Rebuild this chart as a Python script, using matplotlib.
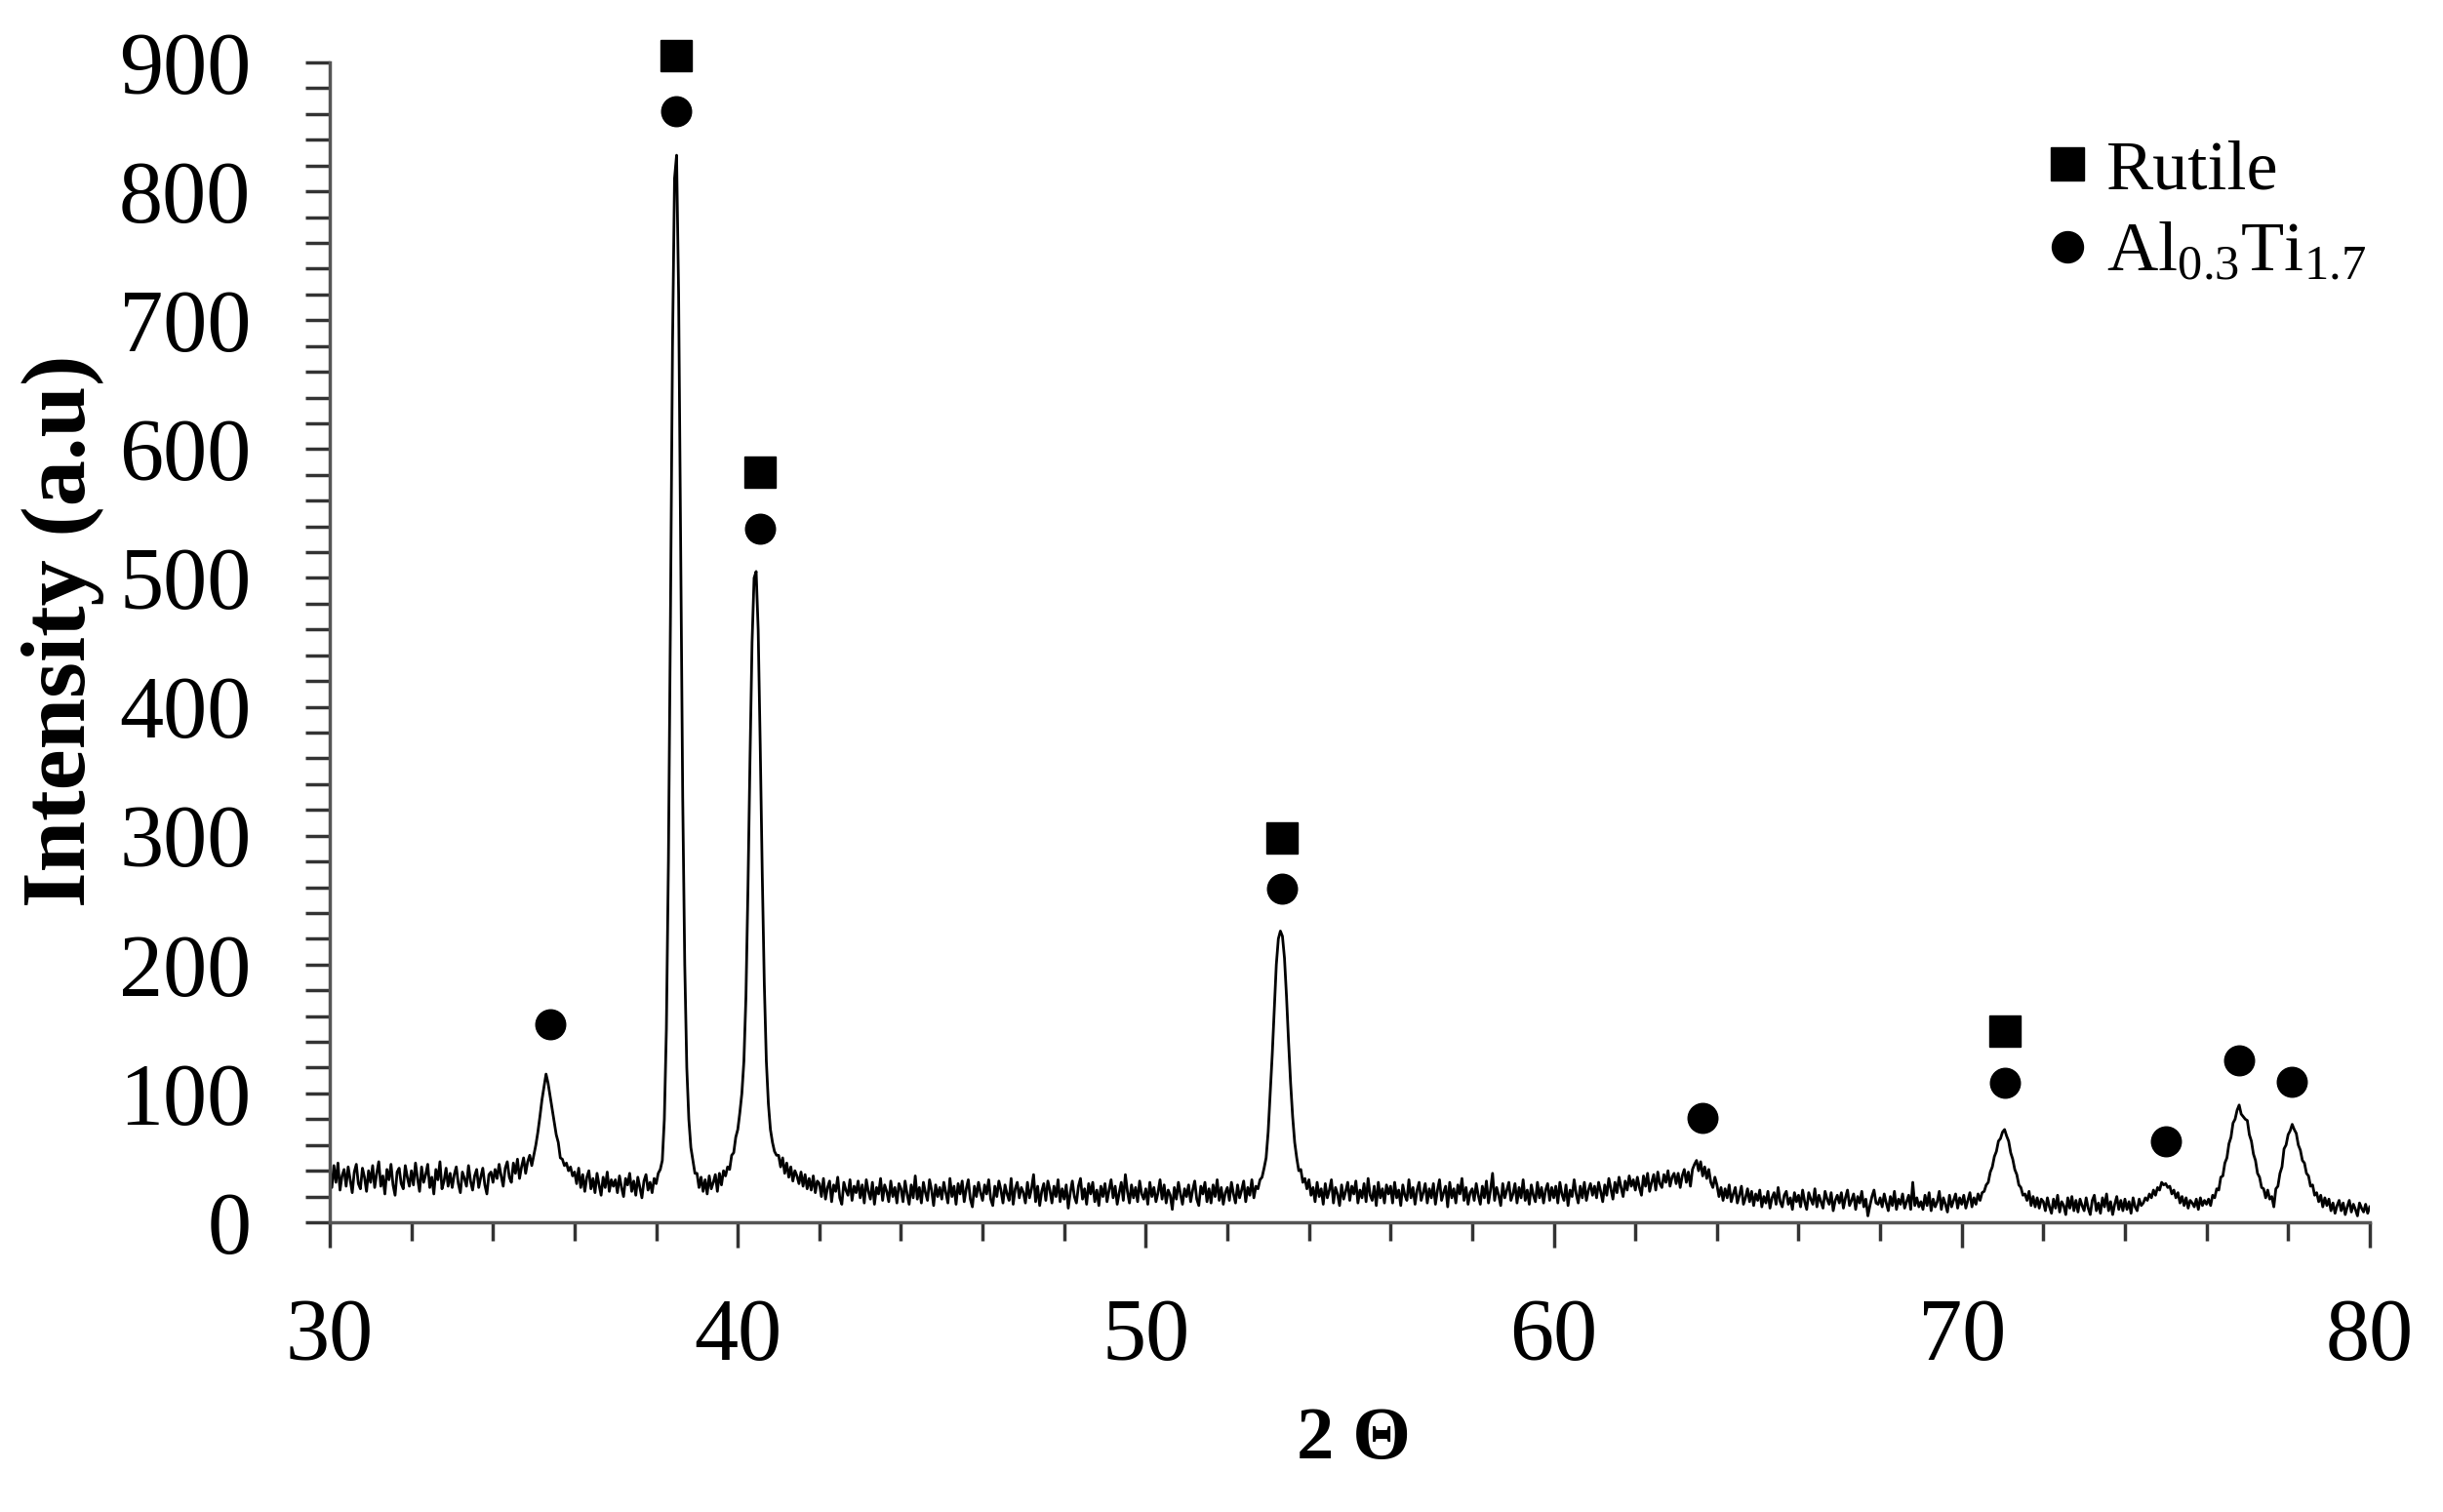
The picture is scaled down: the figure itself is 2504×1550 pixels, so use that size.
import numpy as np
import matplotlib
matplotlib.use("Agg")
import matplotlib.pyplot as plt
from matplotlib.ticker import MultipleLocator
from matplotlib.lines import Line2D

plt.rcParams['font.family'] = ['Liberation Serif', 'DejaVu Serif']
plt.rcParams['mathtext.fontset'] = 'custom'
plt.rcParams['mathtext.rm'] = 'Liberation Serif'
plt.rcParams['mathtext.it'] = 'Liberation Serif:italic'
plt.rcParams['mathtext.bf'] = 'Liberation Serif:bold'

# 2-theta grid, one reading every 0.05 degree
two_theta = np.round(np.arange(30, 80.001, 0.05), 2)

# intensity, one row per degree (x.00 ... x.95)
intensity_rows = [
    [38, 27, 44, 31, 46, 25, 36, 41, 28, 43, 33, 23, 39, 45, 30, 26, 42, 35, 24, 40],  # 30
    [31, 44, 27, 38, 47, 28, 36, 22, 41, 33, 45, 29, 21, 39, 42, 30, 26, 44, 35, 28],  # 31
    [40, 29, 46, 34, 24, 43, 31, 37, 45, 27, 35, 22, 41, 33, 47, 26, 32, 42, 28, 38],  # 32
    [27, 37, 43, 30, 23, 39, 34, 28, 44, 32, 25, 36, 41, 27, 35, 42, 29, 22, 37, 39],  # 33
    [31, 41, 34, 45, 36, 28, 42, 47, 35, 31, 46, 38, 49, 34, 43, 50, 38, 47, 52, 44],  # 34
    [52, 60, 70, 82, 95, 105, 115, 108, 98, 88, 78, 68, 62, 50, 49, 44, 46, 40, 43, 36],  # 35
    [39, 30, 42, 27, 37, 24, 35, 40, 26, 34, 23, 38, 29, 21, 35, 27, 39, 24, 33, 28],  # 36
    [33, 23, 36, 27, 20, 34, 29, 38, 24, 32, 21, 35, 27, 19, 32, 37, 25, 31, 23, 34],  # 37
    [30, 38, 41, 48, 80, 150, 280, 470, 680, 810, 828, 720, 520, 330, 200, 120, 80, 58, 48, 38],  # 38
    [38, 27, 35, 24, 33, 22, 36, 26, 31, 37, 24, 38, 29, 40, 36, 43, 41, 52, 54, 66],  # 39
    [72, 85, 100, 125, 175, 260, 360, 450, 500, 505, 460, 370, 270, 185, 125, 92, 72, 62, 55, 52],  # 40
    [52, 43, 50, 38, 46, 35, 43, 32, 40, 36, 30, 39, 28, 37, 26, 34, 25, 36, 23, 32],  # 41
    [30, 20, 34, 18, 27, 32, 16, 29, 24, 35, 19, 14, 31, 25, 21, 33, 17, 28, 23, 32],  # 42
    [19, 29, 15, 33, 24, 18, 31, 14, 27, 22, 34, 17, 29, 24, 16, 32, 20, 27, 15, 30],  # 43
    [26, 16, 32, 22, 14, 29, 19, 36, 18, 27, 15, 31, 23, 17, 33, 25, 13, 29, 20, 27],  # 44
    [18, 31, 23, 15, 34, 20, 28, 14, 30, 22, 32, 16, 26, 33, 18, 12, 28, 20, 31, 23],  # 45
    [17, 29, 22, 33, 18, 13, 28, 20, 32, 25, 15, 29, 22, 17, 34, 14, 26, 31, 19, 27],  # 46
    [23, 15, 31, 19, 26, 37, 16, 28, 13, 24, 30, 17, 32, 25, 15, 28, 20, 33, 16, 26],  # 47
    [18, 29, 11, 23, 32, 20, 15, 28, 34, 18, 26, 14, 30, 22, 31, 16, 25, 13, 28, 20],  # 48
    [30, 16, 25, 33, 19, 28, 14, 23, 31, 17, 37, 24, 15, 29, 19, 27, 16, 32, 22, 18],  # 49
    [26, 14, 31, 20, 27, 16, 23, 33, 18, 29, 15, 25, 21, 10, 27, 18, 31, 22, 14, 26],  # 50
    [20, 29, 16, 25, 32, 18, 13, 28, 22, 31, 16, 26, 15, 29, 20, 33, 17, 27, 14, 23],  # 51
    [27, 17, 31, 22, 15, 29, 19, 25, 32, 16, 27, 21, 33, 19, 28, 26, 33, 35, 42, 50],  # 52
    [70, 100, 130, 165, 200, 220, 226, 222, 205, 175, 140, 108, 82, 62, 50, 40, 41, 31, 34, 26],  # 53
    [33, 21, 27, 16, 31, 20, 26, 14, 30, 19, 25, 33, 15, 27, 22, 13, 29, 18, 24, 31],  # 54
    [17, 28, 22, 32, 15, 25, 19, 30, 16, 34, 21, 17, 28, 13, 31, 19, 26, 15, 29, 22],  # 55
    [28, 15, 31, 19, 25, 13, 29, 21, 17, 33, 19, 27, 14, 25, 31, 17, 23, 30, 15, 26],  # 56
    [19, 30, 14, 25, 33, 17, 23, 28, 12, 31, 19, 26, 15, 29, 22, 34, 17, 27, 14, 23],  # 57
    [26, 17, 30, 21, 14, 28, 19, 32, 15, 25, 38, 17, 27, 21, 13, 30, 19, 25, 31, 17],  # 58
    [22, 30, 15, 27, 19, 33, 17, 25, 14, 29, 21, 16, 31, 19, 27, 15, 25, 30, 17, 27],  # 59
    [19, 28, 15, 31, 22, 17, 29, 13, 25, 20, 33, 22, 15, 28, 19, 31, 17, 25, 30, 21],  # 60
    [28, 19, 31, 24, 16, 29, 21, 34, 26, 18, 31, 23, 35, 27, 20, 32, 25, 36, 28, 33],  # 61
    [25, 35, 27, 21, 36, 28, 38, 24, 31, 37, 25, 39, 30, 27, 37, 31, 40, 28, 35, 38],  # 62
    [30, 38, 27, 36, 41, 31, 39, 28, 41, 45, 48, 40, 47, 36, 43, 34, 41, 31, 27, 35],  # 63
    [29, 20, 27, 17, 26, 19, 29, 16, 22, 27, 15, 21, 28, 14, 19, 26, 16, 24, 13, 22],  # 64
    [17, 25, 12, 20, 15, 24, 11, 19, 23, 14, 27, 16, 12, 21, 24, 14, 19, 10, 23, 16],  # 65
    [21, 12, 25, 16, 10, 23, 18, 14, 26, 12, 21, 16, 11, 24, 18, 14, 23, 9, 17, 21],  # 66
    [15, 23, 11, 19, 25, 13, 17, 22, 10, 20, 15, 24, 12, 18, 5, 13, 20, 25, 15, 14],  # 67
    [19, 12, 22, 15, 9, 20, 13, 24, 10, 18, 14, 22, 11, 16, 21, 10, 31, 13, 19, 12],  # 68
    [16, 10, 21, 13, 23, 9, 18, 12, 16, 24, 10, 19, 14, 8, 21, 12, 17, 22, 11, 19],  # 69
    [14, 21, 11, 17, 23, 12, 19, 14, 22, 17, 23, 24, 29, 31, 39, 43, 51, 55, 63, 65],  # 70
    [70, 72, 67, 63, 54, 49, 41, 37, 29, 27, 21, 22, 17, 24, 13, 20, 12, 19, 11, 18],  # 71
    [16, 9, 19, 12, 7, 18, 11, 21, 8, 16, 13, 6, 19, 11, 20, 9, 17, 8, 18, 13],  # 72
    [9, 19, 11, 6, 17, 21, 9, 15, 7, 19, 12, 22, 9, 16, 6, 14, 20, 10, 17, 9],  # 73
    [18, 10, 16, 7, 19, 12, 9, 18, 13, 15, 19, 17, 22, 19, 25, 21, 27, 25, 31, 29],  # 74
    [30, 27, 28, 22, 25, 19, 23, 15, 20, 13, 19, 11, 17, 15, 12, 18, 10, 19, 13, 17],  # 75
    [14, 18, 13, 21, 19, 26, 25, 35, 36, 46, 50, 61, 66, 77, 80, 87, 91, 84, 82, 80],  # 76
    [79, 68, 63, 53, 48, 38, 35, 27, 26, 19, 25, 18, 20, 12, 26, 28, 38, 43, 57, 60],  # 77
    [68, 71, 76, 72, 69, 60, 56, 48, 46, 38, 36, 28, 29, 21, 23, 16, 21, 12, 19, 13],  # 78
    [18, 9, 15, 7, 13, 17, 9, 15, 6, 12, 17, 8, 14, 10, 5, 15, 11, 8, 14, 7],  # 79
]
intensity_end = [12]  # 80.00
intensity = [v for row in intensity_rows for v in row] + intensity_end

# phase markers above the peaks
rutile_x = [38.5, 40.55, 53.35, 71.05]
rutile_y = [905, 582, 298, 148]
alti_x = [35.4, 38.5, 40.55, 53.35, 63.65, 71.05, 75.0, 76.8, 78.1]
alti_y = [154, 862, 538, 259, 81, 108, 63, 126, 109]

legend_labels = ['Rutile', r'Al$_{0.3}$Ti$_{1.7}$']

fig = plt.figure(figsize=(25.04, 15.5), dpi=100)
ax = fig.add_axes([0.135, 0.1916, 0.835, 0.7671])

ax.plot(two_theta, intensity, color='black', lw=2.0)
ax.plot(rutile_x, rutile_y, 's', ms=23, color='black', ls='none', clip_on=False)
ax.plot(alti_x, alti_y, 'o', ms=22, color='black', ls='none', clip_on=False)

ax.set_xlim(30, 80)
ax.set_ylim(0, 900)
for side in ['top', 'right']:
    ax.spines[side].set_visible(False)
for side in ['left', 'bottom']:
    ax.spines[side].set_color('#555555')
    ax.spines[side].set_linewidth(2.5)

ax.xaxis.set_major_locator(MultipleLocator(10))
ax.xaxis.set_minor_locator(MultipleLocator(2))
ax.yaxis.set_major_locator(MultipleLocator(100))
ax.yaxis.set_minor_locator(MultipleLocator(20))
ax.tick_params(axis='x', which='major', direction='out', length=19, width=2.5,
               color='#333333', labelsize=65, pad=37)
ax.tick_params(axis='x', which='minor', direction='out', length=14, width=2.5, color='#333333')
ax.tick_params(axis='y', which='both', direction='out', length=18, width=2.5,
               color='#333333', labelsize=65, pad=40)

fig.text(65 / 2504, 1 - 647 / 1550, 'Intensity (a.u)', rotation=90, ha='center', va='center',
         fontsize=68, fontweight='bold')
fig.text(1387 / 2504, 1 - 1477 / 1550, '2 \u0398', ha='center', va='center',
         fontsize=55, fontweight='bold')

handles = [Line2D([], [], marker='s', ms=24, color='black', ls='none'),
           Line2D([], [], marker='o', ms=23, color='black', ls='none')]
ax.legend(handles, legend_labels, loc='upper left', bbox_to_anchor=(2101 / 2504, 1 - 143 / 1550),
          bbox_transform=fig.transFigure, frameon=False, fontsize=52, borderpad=0,
          handlelength=0.5, handletextpad=0.3, labelspacing=0.26, borderaxespad=0)

fig.savefig('out.png', dpi=100, facecolor='white')
